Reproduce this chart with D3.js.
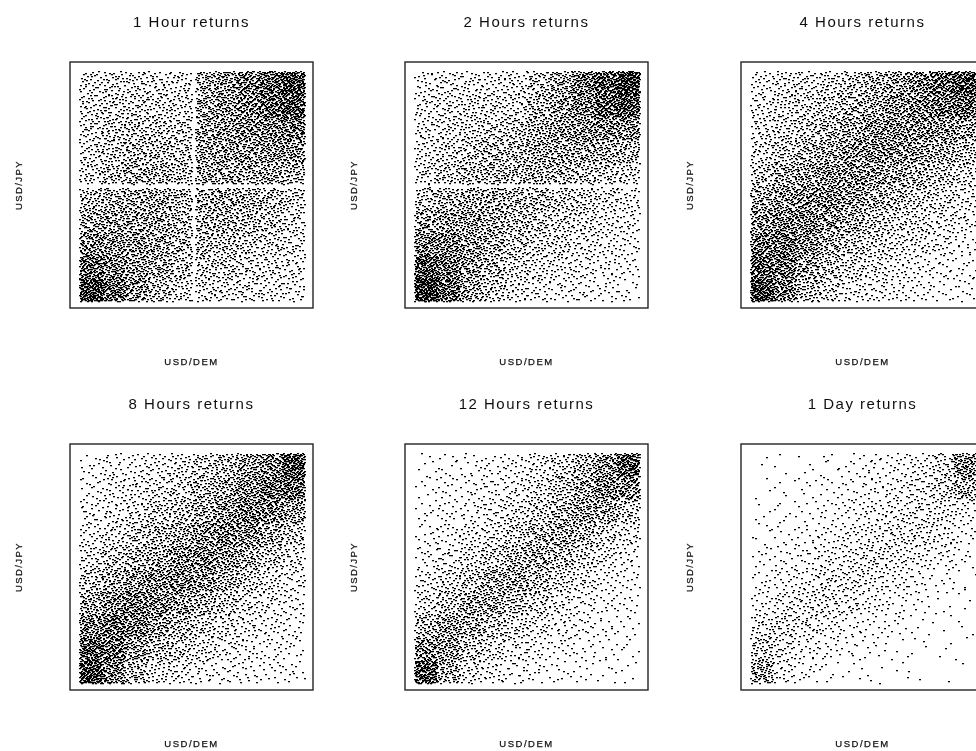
<!DOCTYPE html>
<html><head><meta charset="utf-8">
<script src="https://cdn.jsdelivr.net/npm/d3@7/dist/d3.min.js"></script>
<style>html,body{margin:0;background:#fff;overflow:hidden}svg{display:block}text{font-family:"Liberation Sans",Arial,sans-serif;fill:#111}</style>
</head><body><svg id="c" width="976" height="751"></svg>
<script>
// Titles and axis labels
const titles = ["1 Hour returns","2 Hours returns","4 Hours returns","8 Hours returns","12 Hours returns","1 Day returns"];
const xLabel = "USD/DEM", yLabel = "USD/JPY";
// The individual points are not legible, so these are estimated dot counts per
// cell of a 10x10 grid (top row = high USD/JPY, left column = low USD/DEM).
const density1h = [[34,38,38,34,34,70,90,119,153,204],[38,42,42,42,38,76,90,110,144,178],[38,51,51,51,47,80,90,102,110,128],[38,51,60,60,51,78,85,85,94,94],[42,60,68,68,60,76,76,76,76,68],[60,68,72,76,64,72,76,72,60,47],[76,81,81,76,60,66,68,60,51,38],[102,94,85,76,60,60,55,47,42,34],[144,110,85,72,55,51,47,38,34,30],[204,144,94,60,42,38,34,34,30,26]];
const density2h = [[26,30,30,30,34,51,76,119,170,221],[30,34,38,38,38,64,85,110,162,178],[30,38,42,47,51,72,89,94,102,102],[34,42,51,60,64,76,76,76,72,64],[38,51,60,64,64,72,64,55,51,42],[51,64,72,72,64,60,51,47,38,30],[76,85,85,72,60,51,42,38,30,26],[110,110,85,68,51,42,38,30,26,21],[170,128,85,64,42,34,30,26,21,17],[230,153,76,51,34,26,21,21,17,13]];
const density4h = [[26,34,38,42,51,68,85,110,144,196],[30,38,42,51,64,76,94,110,128,144],[34,42,51,64,76,94,102,102,94,85],[38,51,64,76,94,102,94,85,72,60],[51,72,85,94,98,89,76,64,51,42],[72,89,102,106,89,72,60,47,38,30],[94,110,110,89,72,55,42,38,30,26],[128,132,102,72,55,42,34,30,26,17],[162,128,81,55,42,34,26,21,17,13],[204,119,60,42,30,26,21,17,13,13]];
const density8h = [[13,21,21,26,34,47,60,85,110,187],[17,26,30,34,42,60,76,102,128,144],[21,26,34,47,55,72,94,119,110,85],[26,34,47,60,72,94,110,102,76,51],[34,51,64,76,98,110,94,72,51,34],[51,72,89,102,110,94,72,51,34,26],[76,102,119,106,85,68,51,34,26,21],[110,136,119,85,64,47,34,26,21,17],[162,136,85,60,47,34,26,21,17,13],[212,119,60,38,30,21,17,17,13,13]];
const density12h = [[7,10,13,15,21,30,42,64,94,170],[9,13,15,19,26,36,51,76,110,102],[10,15,19,26,34,47,64,85,76,51],[13,19,26,34,47,64,76,64,42,30],[17,26,36,47,68,76,60,42,30,19],[26,38,51,72,76,60,42,30,21,15],[34,55,76,76,55,42,30,21,15,12],[60,85,72,51,38,30,21,17,12,9],[102,89,51,36,26,19,15,12,9,7],[187,68,34,24,17,13,10,9,7,5]];
const density1d = [[2,3,4,7,9,15,19,24,38,102],[3,5,7,9,12,17,22,27,41,68],[4,7,9,12,17,22,27,30,30,21],[7,9,12,17,22,26,30,32,26,15],[10,12,17,24,27,32,30,24,17,10],[12,19,24,31,32,27,20,15,9,5],[19,27,31,31,26,19,14,9,5,3],[32,36,29,22,15,12,9,5,3,3],[47,29,19,14,10,7,5,4,3,2],[76,24,12,7,5,4,3,2,1,1]];
const densities = [density1h,density2h,density4h,density8h,density12h,density1d];
// Empty bands seen round zero return, in grid units [from, to]
const emptyX = [[5.0,5.15],null,null,null,null,null];
const emptyY = [[4.9,5.08],[4.9,5.06],null,null,null,null];

const svg = d3.select("#c");
svg.append("defs").append("filter").attr("id","soft").attr("x","-5%").attr("y","-5%").attr("width","110%").attr("height","110%")
  .append("feGaussianBlur").attr("stdDeviation",0.4);
const root = svg.append("g").attr("filter","url(#soft)");

const colX = d3.scaleOrdinal([0,1,2],[70,405,741]);
const rowY = d3.scaleOrdinal([0,1],[62,444]);
const W = 243, H = 246, inset = 9;

// Rendering of the estimated counts, not measured points: each cell gets its
// count of dots, spread evenly by a Halton sequence (no random numbers).
const halton = (n,b)=>{let f=1,v=0;while(n>0){f/=b;v+=f*(n%b);n=Math.floor(n/b);}return v;};
function stipple(table, ex, ey, panel){
  const pts = [];
  table.forEach((row,r)=>row.forEach((n,c)=>{
    const start = 1 + (panel*100 + r*10 + c)*211;
    for(let k=0;k<n;k++){
      const gx=c+halton(start+k,2), gy=r+halton(start+k,3);
      if((ex&&gx>=ex[0]&&gx<=ex[1])||(ey&&gy>=ey[0]&&gy<=ey[1])) continue;
      pts.push([gx,gy]);
    }
  }));
  return pts;
}

densities.forEach((table,i)=>{
  const cx = colX(i%3), cy = rowY(Math.floor(i/3));
  const x = d3.scaleLinear([0,10],[cx+inset,cx+W-inset]);
  const y = d3.scaleLinear([0,10],[cy+inset,cy+H-inset+2]);
  const g = root.append("g");
  g.append("g").selectAll("rect").data(stipple(table,emptyX[i],emptyY[i],i)).join("rect")
    .attr("x",d=>Math.round(x(d[0]))).attr("y",d=>Math.round(y(d[1])))
    .attr("width",2).attr("height",1.3).attr("fill","#000");
  g.append("rect").attr("x",cx).attr("y",cy).attr("width",W).attr("height",H)
    .attr("fill","none").attr("stroke","#222").attr("stroke-width",1.4);
  const mid = cx + W/2;
  g.append("text").attr("x",mid).attr("y",cy-35).attr("text-anchor","middle").attr("font-size",15).attr("letter-spacing",1.5).text(titles[i]);
  g.append("text").attr("x",mid).attr("y",cy+H+57).attr("text-anchor","middle").attr("font-size",9.5).attr("letter-spacing",1.5).attr("stroke","#111").attr("stroke-width",0.25).text(xLabel);
  g.append("text").attr("transform",`translate(${cx-48},${cy+H/2}) rotate(-90)`).attr("text-anchor","middle").attr("font-size",9.5).attr("letter-spacing",1.4).attr("stroke","#111").attr("stroke-width",0.25).text(yLabel);
});
</script></body></html>
